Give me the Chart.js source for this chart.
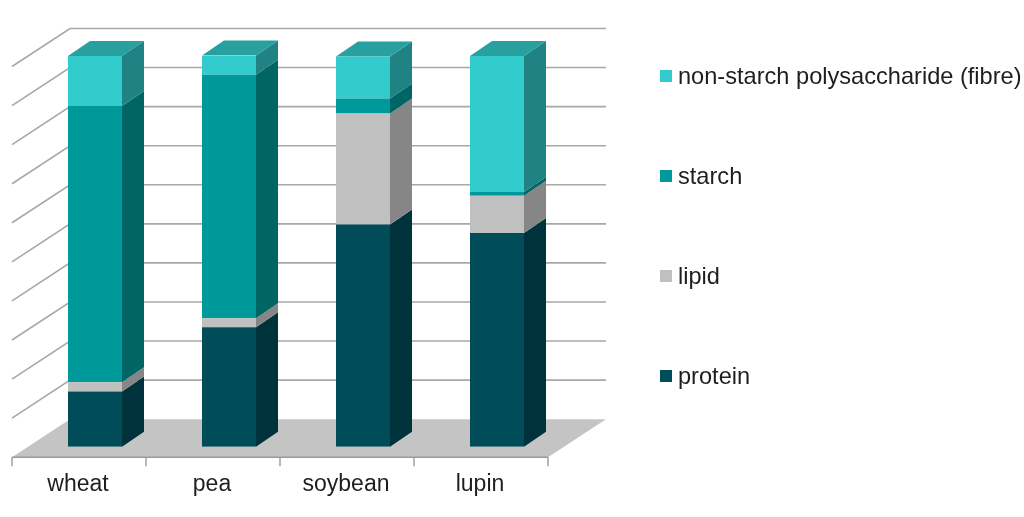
<!DOCTYPE html>
<html>
<head>
<meta charset="utf-8">
<script src="https://cdn.jsdelivr.net/npm/chart.js@4.4.0/dist/chart.umd.min.js"></script>
<style>
  html, body { margin: 0; padding: 0; background: #fff; }
  canvas { display: block; }
</style>
</head>
<body>
<canvas id="myChart" width="1024" height="517"></canvas>
<script>
// data (% of dry matter)
var categories = ['wheat', 'pea', 'soybean', 'lupin'];
var protein = [14.1, 30.6, 56.9, 54.7];
var lipid = [2.4, 2.3, 28.4, 9.5];
var starch = [70.7, 62.3, 3.8, 1.0];
var fibre = [12.8, 4.9, 10.8, 34.8];

// 3d offsets, relative to the plane the bar fronts sit on
var FRONT = { x: -16, y: 10.5 };
var BACK = { x: 42, y: -27.5 };
var BAR = { x: 22, y: -15 };

var TEXT = '#1e1e1e';
var FONT = '"Liberation Sans", Arial, sans-serif';

function poly(ctx, pts, fill) {
  ctx.beginPath();
  ctx.moveTo(pts[0][0], pts[0][1]);
  for (var i = 1; i < pts.length; i++) ctx.lineTo(pts[i][0], pts[i][1]);
  ctx.closePath();
  ctx.fillStyle = fill;
  ctx.fill();
}

var box3d = {
  id: 'box3d',
  beforeDatasetsDraw: function (chart) {
    var ctx = chart.ctx;
    var a = chart.chartArea;
    var x = chart.scales.x, y = chart.scales.y;
    ctx.save();

    // floor
    var y0 = y.getPixelForValue(0);
    poly(ctx, [
      [a.left + FRONT.x, y0 + FRONT.y],
      [a.right + FRONT.x, y0 + FRONT.y],
      [a.right + BACK.x, y0 + BACK.y],
      [a.left + BACK.x, y0 + BACK.y]
    ], '#c4c4c4');

    // grid on the left and back walls
    ctx.strokeStyle = '#a8a8a8';
    ctx.lineWidth = 1.6;
    y.ticks.forEach(function (t) {
      if (t.value === 0) return;
      var py = y.getPixelForValue(t.value);
      ctx.beginPath();
      ctx.moveTo(a.left + FRONT.x, py + FRONT.y);
      ctx.lineTo(a.left + BACK.x, py + BACK.y);
      ctx.lineTo(a.right + BACK.x, py + BACK.y);
      ctx.stroke();
    });

    // front edge of the floor with category ticks
    ctx.strokeStyle = '#9a9a9a';
    ctx.lineWidth = 1.4;
    ctx.beginPath();
    ctx.moveTo(a.left + FRONT.x, y0 + FRONT.y);
    ctx.lineTo(a.right + FRONT.x, y0 + FRONT.y);
    var step = (a.right - a.left) / categories.length;
    for (var i = 0; i <= categories.length; i++) {
      var tx = a.left + FRONT.x + i * step;
      ctx.moveTo(tx, y0 + FRONT.y);
      ctx.lineTo(tx, y0 + FRONT.y + 9);
    }
    ctx.stroke();

    // sides and tops of the bars
    chart.data.datasets.forEach(function (ds, di) {
      var meta = chart.getDatasetMeta(di);
      meta.data.forEach(function (bar, j) {
        var p = bar.getProps(['x', 'y', 'base', 'width'], true);
        var r = p.x + p.width / 2, l = p.x - p.width / 2;
        var top = Math.min(p.y, p.base), bot = Math.max(p.y, p.base);
        poly(ctx, [[r, bot], [r, top], [r + BAR.x, top + BAR.y], [r + BAR.x, bot + BAR.y]], ds.sideColor);
        if (di === chart.data.datasets.length - 1) {
          poly(ctx, [[l, top], [r, top], [r + BAR.x, top + BAR.y], [l + BAR.x, top + BAR.y]], ds.topColor);
        }
      });
    });
    ctx.restore();
  },
  afterDraw: function (chart) {
    var ctx = chart.ctx;
    var sets = chart.data.datasets;
    ctx.save();
    ctx.font = '23.6px ' + FONT;
    ctx.textBaseline = 'alphabetic';
    ctx.textAlign = 'left';
    for (var k = 0; k < sets.length; k++) {
      var ds = sets[sets.length - 1 - k];
      var cy = 76 + k * 100;
      ctx.fillStyle = ds.backgroundColor;
      ctx.fillRect(660, cy - 6, 12, 12);
      ctx.fillStyle = TEXT;
      ctx.fillText(ds.label, 678, cy + 8);
    }
    ctx.restore();
  }
};

var ctx = document.getElementById('myChart').getContext('2d');

var myChart = new Chart(ctx, {
  type: 'bar',
  data: {
    labels: categories,
    datasets: [
      { label: 'protein', data: protein, backgroundColor: '#004c59', sideColor: '#00323b', topColor: '#003944' },
      { label: 'lipid', data: lipid, backgroundColor: '#c0c0c0', sideColor: '#868686', topColor: '#9e9e9e' },
      { label: 'starch', data: starch, backgroundColor: '#009999', sideColor: '#006565', topColor: '#007a7a' },
      { label: 'non-starch polysaccharide (fibre)', data: fibre, backgroundColor: '#33cccc', sideColor: '#208282', topColor: '#28a0a0' }
    ]
  },
  options: {
    responsive: false,
    animation: false,
    layout: { padding: { left: 28, right: 460, top: 56, bottom: 18 } },
    datasets: { bar: { categoryPercentage: 1, barPercentage: 0.403, borderWidth: 0 } },
    plugins: { legend: { display: false }, tooltip: { enabled: false } },
    scales: {
      x: {
        stacked: true,
        grid: { display: false, drawTicks: false },
        border: { display: false },
        ticks: { color: TEXT, font: { family: FONT, size: 23 }, padding: 24, labelOffset: -17 },
        afterFit: function (scale) { scale.height = 52.3; }
      },
      y: {
        stacked: true,
        display: false,
        min: 0,
        max: 100,
        ticks: { stepSize: 10 }
      }
    }
  },
  plugins: [box3d]
});
</script>
</body>
</html>
